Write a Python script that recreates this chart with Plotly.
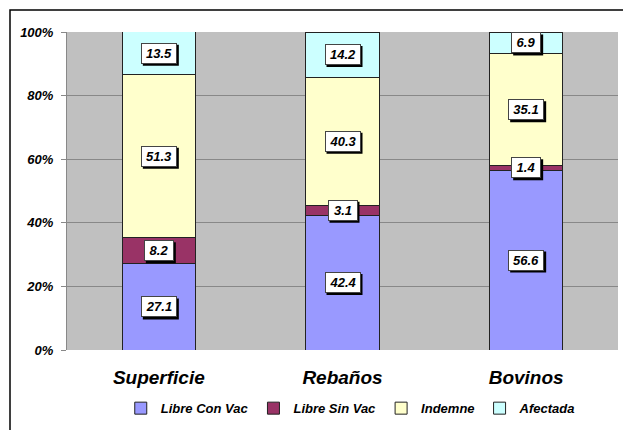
import plotly.graph_objects as go

categories = ["Superficie", "Rebaños", "Bovinos"]
series_names = ["Libre Con Vac", "Libre Sin Vac", "Indemne", "Afectada"]
libre_con_vac = [27.1, 42.4, 56.6]
libre_sin_vac = [8.2, 3.1, 1.4]
indemne = [51.3, 40.3, 35.1]
afectada = [13.5, 14.2, 6.9]
colors = ["#9999FF", "#993366", "#FFFFCC", "#CCFFFF"]
tick_vals = [0, 20, 40, 60, 80, 100]
tick_text = ["0%", "20%", "40%", "60%", "80%", "100%"]

series = [libre_con_vac, libre_sin_vac, indemne, afectada]
FONT = "Liberation Sans, Arial, sans-serif"

fig = go.Figure()
for name, vals, col in zip(series_names, series, colors):
    fig.add_trace(go.Bar(
        x=categories, y=vals, name=name,
        marker=dict(color=col, line=dict(color="#222222", width=1)),
        width=0.4,
    ))

annotations = []
shapes = [dict(
    type="rect", xref="paper", yref="paper",
    x0=(10 - 67) / 551, x1=1.2, y0=-0.5, y1=1 + (32 - 10) / 318,
    line=dict(color="#000000", width=1.5), fillcolor="rgba(0,0,0,0)", layer="below",
)]
for ci, cat in enumerate(categories):
    base = 0.0
    for vals in series:
        v = vals[ci]
        mid = base + v / 2
        base += v
        label = f"{v:.1f}"
        w = 6 * len(label) + 6
        h = 15
        tw = w + 6
        th = h + 6
        # drop shadow
        shapes.append(dict(
            type="rect", xref="x", yref="y",
            xsizemode="pixel", ysizemode="pixel",
            xanchor=cat, yanchor=mid,
            x0=-tw / 2 + 2, x1=tw / 2 + 2, y0=-th / 2 - 2, y1=th / 2 - 2,
            fillcolor="#000000", line=dict(width=0), layer="above",
        ))
        annotations.append(dict(
            x=cat, y=mid, xref="x", yref="y", text=f"<b><i>{label}</i></b>",
            showarrow=False, width=w, height=h,
            font=dict(family=FONT, size=13, color="#000000"),
            bgcolor="#FFFFFF", bordercolor="#444444", borderwidth=1, borderpad=2,
        ))

fig.update_layout(
    width=623, height=430,
    barmode="stack",
    bargap=0.6,
    paper_bgcolor="#FFFFFF",
    plot_bgcolor="#C0C0C0",
    margin=dict(l=67, r=5, t=32, b=80, autoexpand=False),
    font=dict(family=FONT, color="#000000"),
    annotations=annotations,
    shapes=shapes,
    showlegend=True,
    legend=dict(
        orientation="h", x=0.515, xanchor="center", y=-0.183, yanchor="middle",
        font=dict(family=FONT, size=13, weight="bold", style="italic"),
        traceorder="normal", itemwidth=30, tracegroupgap=0,
    ),
)

fig.update_xaxes(
    showgrid=False, showline=False, ticks="",
    tickfont=dict(family=FONT, size=19, weight="bold", style="italic"),
    ticklabelstandoff=14,
)
fig.update_yaxes(
    range=[0, 100], tickvals=tick_vals, ticktext=tick_text,
    showgrid=True, gridcolor="#888888", gridwidth=1,
    showline=True, linecolor="#888888", linewidth=1,
    ticks="outside", ticklen=5, tickcolor="#888888",
    tickfont=dict(family=FONT, size=13, weight="bold", style="italic"),
    ticklabelstandoff=5,
    zeroline=False,
)

fig.write_html(
    "out.html",
    config={"displayModeBar": False},
    post_script="document.body.style.margin='0px';document.body.style.overflow='hidden';",
)
